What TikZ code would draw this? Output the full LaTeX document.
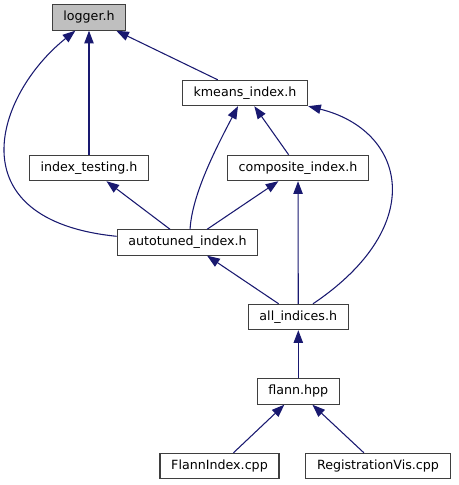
\documentclass[tikz,border=0pt]{standalone}
\usepackage{fontspec}
\setmainfont{DejaVu Sans}
\usepackage{tikz}
\usetikzlibrary{arrows.meta,positioning}
\definecolor{cedge}{HTML}{191970}
\definecolor{croot}{HTML}{BFBFBF}
\definecolor{cbord}{HTML}{3F3F3F}
\begin{document}
\begin{tikzpicture}[x=0.75pt, y=-0.75pt,
  file/.style={draw=cbord, thick, fill=white, font=\fontsize{9.5}{11}\selectfont, inner xsep=8.4pt, inner ysep=0pt, minimum height=19pt},
  inc/.style={{Triangle[length=9.5pt, width=7pt]}-, draw=cedge, fill=none, line width=0.8pt}]
\useasboundingbox (0,0) rectangle (458,485);
% headers
\node[file, fill=croot] (lg) at (89,17.5) {logger.h};
\node[file] (km) at (245,93) {kmeans\_index.h};
\node[file] (it) at (89,168) {index\_testing.h};
\node[file] (ci) at (298,168) {composite\_index.h};
\node[file] (at) at (187.5,242.5) {autotuned\_index.h};
\node[file] (ai) at (298.3,317) {all\_indices.h};
\node[file] (fl) at (298.3,391.5) {flann.hpp};
% sources
\node[file] (fi) at (219.5,466) {FlannIndex.cpp};
\node[file] (rv) at (378,466) {RegistrationVis.cpp};
% includes
\draw[inc] (lg) -- (it); \draw[inc] (lg) -- (km);
\draw[inc, cedge] (lg.224) .. controls (-5,95) and (-45,220) .. (at.175);
\draw[inc] (it) -- (at); \draw[inc] (ci) -- (at); \draw[inc] (km) -- (ci);
\draw[inc] (km.242) .. controls (215,150) and (192,195) .. (at.79);
\draw[inc] (km.south east) .. controls (405,130) and (430,225) .. (ai.42);
\draw[inc] (at) -- (ai); \draw[inc] (ci) -- (ai);
\draw[inc] (ai) -- (fl); \draw[inc] (fl) -- (fi); \draw[inc] (fl) -- (rv);
\end{tikzpicture}
\end{document}
